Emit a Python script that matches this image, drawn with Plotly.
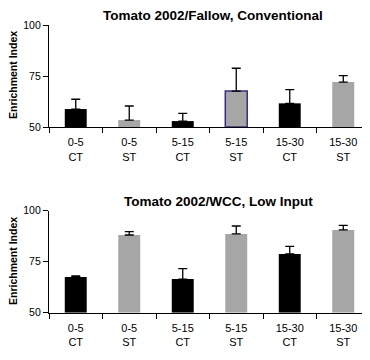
import plotly.graph_objects as go

categories = ["0-5<br>CT", "0-5<br>ST", "5-15<br>CT", "5-15<br>ST", "15-30<br>CT", "15-30<br>ST"]
bar_colors = ["#000000", "#a6a6a6", "#000000", "#a6a6a6", "#000000", "#a6a6a6"]

fallow_values = [58.8, 53.4, 52.9, 67.6, 61.6, 72.0]
fallow_errors = [4.8, 6.9, 3.8, 11.2, 6.7, 3.2]

wcc_values = [67.5, 88.1, 66.5, 88.6, 78.8, 90.6]
wcc_errors = [0.6, 1.6, 5.1, 3.9, 3.7, 2.2]

titles = ["Tomato 2002/Fallow, Conventional", "Tomato 2002/WCC, Low Input"]
y_ticks = [50, 75, 100]

FONT = "Liberation Sans, Arial, sans-serif"
W, H = 370, 360
OFF = 8  # page body margin compensation


def px_x(x):
    return (x - OFF) / W


def px_y(y):
    return 1 - (y - OFF) / H


fig = go.Figure()

fallow_lines = ["#000000", "#a6a6a6", "#000000", "#3b2a8a", "#000000", "#a6a6a6"]
fig.add_trace(go.Bar(
    x=categories, y=[v - 50 for v in fallow_values], base=50,
    marker=dict(color=bar_colors, line=dict(color=fallow_lines, width=[0, 0, 0, 1.5, 0, 0])),
    width=0.41,
    error_y=dict(type="data", symmetric=False, array=fallow_errors, arrayminus=[0] * 6,
                 color="#000000", thickness=1.3, width=4.5),
    xaxis="x", yaxis="y", showlegend=False,
))
fig.add_trace(go.Bar(
    x=categories, y=[v - 50 for v in wcc_values], base=50,
    marker=dict(color=bar_colors, line=dict(width=0)),
    width=0.41,
    error_y=dict(type="data", symmetric=False, array=wcc_errors, arrayminus=[0] * 6,
                 color="#000000", thickness=1.3, width=4.5),
    xaxis="x2", yaxis="y2", showlegend=False,
))

xcommon = dict(
    type="category", range=[-0.5, 5.5], tickson="boundaries", ticks="outside", ticklen=5,
    tickcolor="#000000", showline=True, linecolor="#000000", linewidth=1.3,
    showgrid=False, zeroline=False, tickfont=dict(family=FONT, size=11, color="#000000"),
    ticklabelstandoff=5,
    domain=[px_x(49), px_x(370)], automargin=False,
)
ycommon = dict(
    range=[50, 100], tickvals=y_ticks, ticks="outside", ticklen=5, tickcolor="#000000",
    showline=True, linecolor="#000000", linewidth=1.3, showgrid=False, zeroline=False,
    tickfont=dict(family=FONT, size=10.5, color="#000000"), automargin=False,
)

fig.update_layout(
    width=W, height=H,
    margin=dict(l=0, r=0, t=0, b=0, autoexpand=False),
    paper_bgcolor="white", plot_bgcolor="white",
    xaxis=dict(**xcommon, anchor="y"),
    yaxis=dict(**ycommon, domain=[px_y(127), px_y(25)], anchor="x"),
    xaxis2=dict(**xcommon, anchor="y2"),
    yaxis2=dict(**ycommon, domain=[px_y(312.7), px_y(210.7)], anchor="x2"),
    annotations=[
        dict(text="<b>" + titles[0] + "</b>", x=px_x(213), y=px_y(15), xref="paper", yref="paper",
             showarrow=False, xanchor="center", yanchor="middle",
             font=dict(family=FONT, size=13.5, color="#000000")),
        dict(text="<b>" + titles[1] + "</b>", x=px_x(219), y=px_y(201.5), xref="paper", yref="paper",
             showarrow=False, xanchor="center", yanchor="middle",
             font=dict(family=FONT, size=13.5, color="#000000")),
        dict(text="<b>Enrichment Index</b>", x=px_x(13), y=px_y(75), xref="paper", yref="paper",
             showarrow=False, xanchor="center", yanchor="middle", textangle=-90,
             font=dict(family=FONT, size=10.5, color="#000000")),
        dict(text="<b>Enrichment Index</b>", x=px_x(13), y=px_y(261), xref="paper", yref="paper",
             showarrow=False, xanchor="center", yanchor="middle", textangle=-90,
             font=dict(family=FONT, size=10.5, color="#000000")),
    ],
)

fig.write_html("out.html")
